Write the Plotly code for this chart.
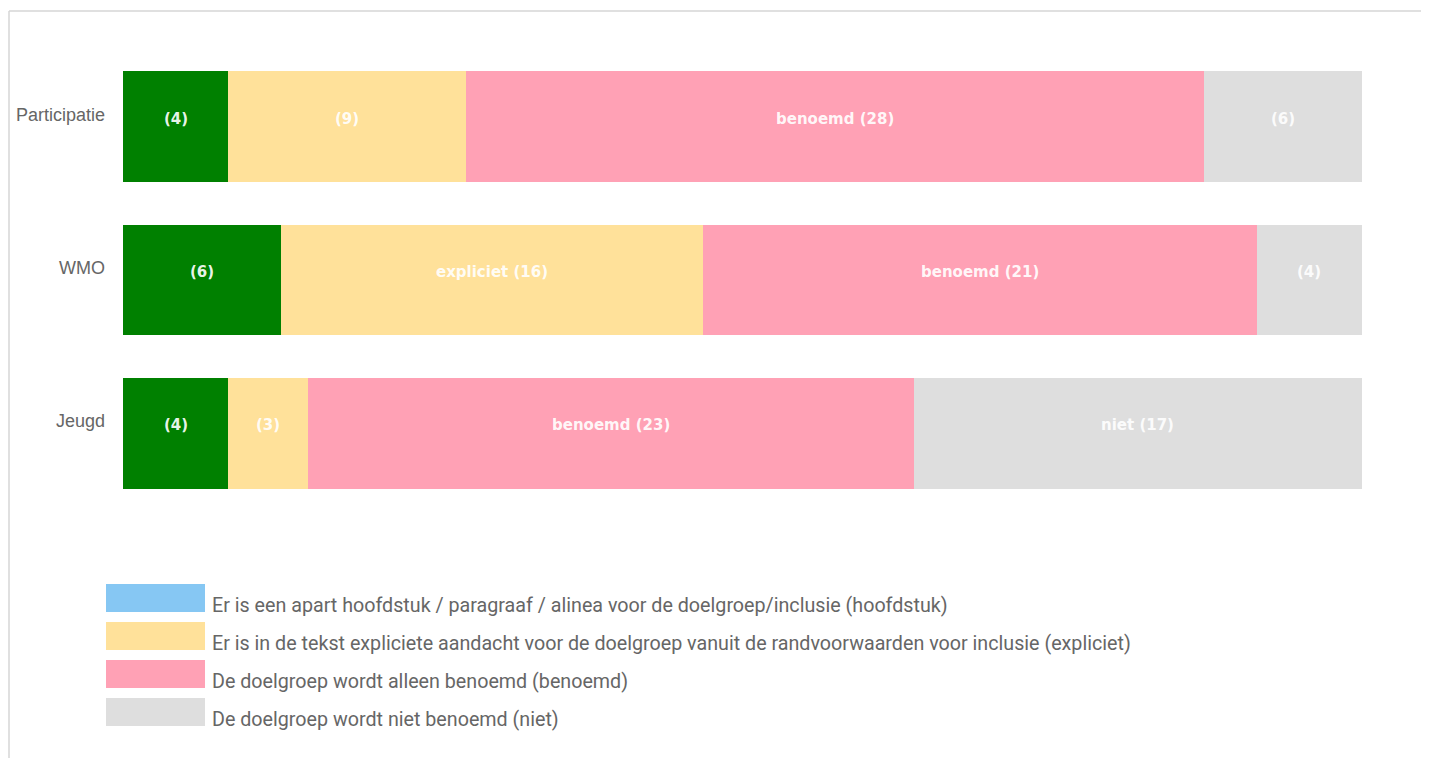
import plotly.graph_objects as go

categories = ["Participatie", "WMO", "Jeugd"]
series_names = [
    "Er is een apart hoofdstuk / paragraaf / alinea voor de doelgroep/inclusie (hoofdstuk)",
    "Er is in de tekst expliciete aandacht voor de doelgroep vanuit de randvoorwaarden voor inclusie (expliciet)",
    "De doelgroep wordt alleen benoemd (benoemd)",
    "De doelgroep wordt niet benoemd (niet)",
]
short_names = ["hoofdstuk", "expliciet", "benoemd", "niet"]
hoofdstuk = [4, 6, 4]
expliciet = [9, 16, 3]
benoemd = [28, 21, 23]
niet = [6, 4, 17]
series_values = [hoofdstuk, expliciet, benoemd, niet]

bar_colors = ["#008000", "rgb(255,225,154)", "rgb(255,161,181)", "rgb(222,222,222)"]
legend_colors = ["rgb(134,199,243)", "rgb(255,225,154)", "rgb(255,161,181)", "rgb(222,222,222)"]

OFF = 8  # page body margin
W, H = 1429, 758
L = 123 - OFF
T = 50 - OFF
R = W - (1362 - OFF)
B = H - (510 - OFF)
pw, ph = W - L - R, H - T - B

def px2paper(x, y):
    x -= OFF
    y -= OFF
    return (x - L) / pw, (H - B - y) / ph

fig = go.Figure()
annotations = []
base = [0] * len(categories)
for i, (name, vals) in enumerate(zip(short_names, series_values)):
    fig.add_trace(go.Bar(
        y=categories, x=vals, orientation="h", name=series_names[i],
        marker=dict(color=bar_colors[i], line=dict(width=0)),
        showlegend=False, hoverinfo="x+y",
    ))
    for j, v in enumerate(vals):
        label = f"{name} ({v})" if (i > 0 and v >= 12) else f"({v})"
        annotations.append(dict(
            x=base[j] + v / 2, y=categories[j], xref="x", yref="y", text=label,
            showarrow=False, xanchor="center", yanchor="middle", yshift=8,
            font=dict(family="DejaVu Sans", size=15, color="rgba(255,255,255,0.93)", weight="bold"),
        ))
        base[j] += v

shapes = []
# legend
for i, name in enumerate(series_names):
    y0 = 584 + 38 * i
    x0p, y0p = px2paper(106, y0)
    x1p, y1p = px2paper(205, y0 + 28)
    shapes.append(dict(type="rect", xref="paper", yref="paper", x0=x0p, x1=x1p,
                       y0=y1p, y1=y0p, fillcolor=legend_colors[i], line=dict(width=0)))
    tx, ty = px2paper(210, y0 + 21)
    annotations.append(dict(xref="paper", yref="paper", x=tx, y=ty, text=name,
                            showarrow=False, xanchor="left", yanchor="middle",
                            font=dict(family="Roboto", size=19.7, color="#666666")))

# category labels (slightly raised like the original)
for c in categories:
    annotations.append(dict(xref="paper", yref="y", x=0, y=c, text=c, showarrow=False,
                            xanchor="right", yanchor="middle", xshift=-16, yshift=12,
                            font=dict(family="Liberation Sans, Arial", size=18, color="#666666")))

# container border
bx, by = px2paper(OFF + 1, 11)
bx2, by2 = px2paper(W + 20, H + 20)
shapes.append(dict(type="line", xref="paper", yref="paper", x0=bx, x1=bx2, y0=by, y1=by,
                   line=dict(color="#d6d6d6", width=1.5)))
shapes.append(dict(type="line", xref="paper", yref="paper", x0=bx, x1=bx, y0=by, y1=by2,
                   line=dict(color="#d6d6d6", width=1.5)))

fig.update_layout(
    width=W, height=H, barmode="stack", bargap=0.277,
    margin=dict(l=L, r=R, t=T, b=B),
    paper_bgcolor="white", plot_bgcolor="white",
    xaxis=dict(visible=False, range=[0, 47], fixedrange=True),
    yaxis=dict(autorange="reversed", showticklabels=False, showgrid=False,
               zeroline=False, showline=False, ticks=""),
    shapes=shapes, annotations=annotations,
)

fig.write_html("out.html")
